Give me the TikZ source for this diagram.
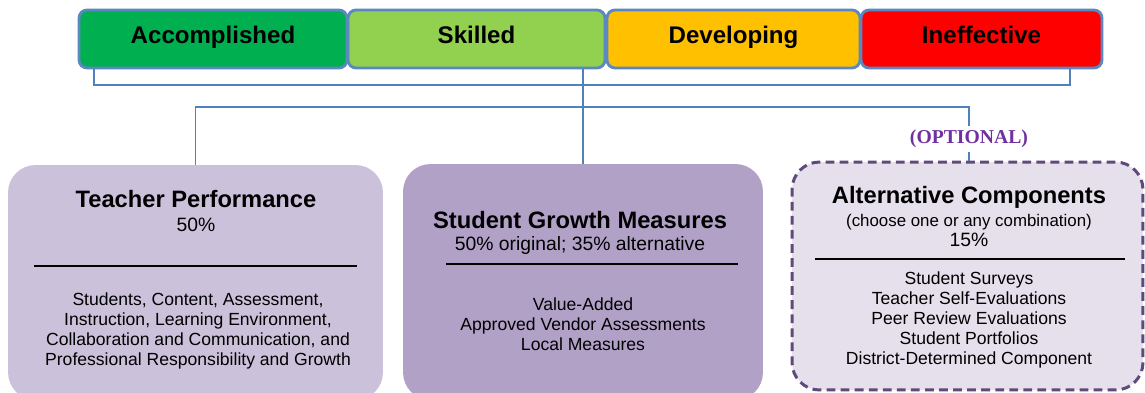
\documentclass[tikz,border=0pt]{standalone}
\usepackage{fontspec}
\setmainfont{Liberation Sans}
\newfontfamily\optfont{Liberation Serif}
\usepackage{tikz}

\definecolor{accgreen}{HTML}{00B050}
\definecolor{skillgreen}{HTML}{92D050}
\definecolor{devorange}{HTML}{FFC000}
\definecolor{ineffred}{HTML}{FF0000}
\definecolor{linkblue}{HTML}{4F81BD}
\definecolor{tierline}{HTML}{5B87C2}
\definecolor{teachfill}{HTML}{CCC1DA}
\definecolor{growthfill}{HTML}{B2A1C7}
\definecolor{altfill}{HTML}{E5E0EC}
\definecolor{altline}{HTML}{604A7B}
\definecolor{optpurple}{HTML}{7030A0}

\begin{document}
\begin{tikzpicture}[x=0.02cm, y=-0.02cm,
        tier/.style={draw=tierline, line width=1.6pt, rounded corners=0.16cm,
                     minimum height=1.16cm, inner sep=0pt,
                     text height=9.8pt, text depth=4.5pt,
                     font=\fontsize{13.7}{15}\selectfont\bfseries},
        link/.style={draw=linkblue, line width=1.1pt},
        part/.style={rounded corners=0.55cm, inner sep=0pt},
        heading/.style={font=\fontsize{13.5}{15}\selectfont\bfseries},
        share/.style={font=\fontsize{11}{13}\selectfont},
        items/.style={align=center, font=\fontsize{10}{11.4}\selectfont},
        rule/.style={line width=1.1pt}]
        \useasboundingbox (0,0) rectangle (1145,392);

        \node[tier, fill=accgreen, minimum width=5.36cm] (acc) at (213,39) {Accomplished};
        \node[tier, fill=skillgreen, minimum width=5.14cm] (skill) at (476.5,39) {Skilled};
        \node[tier, fill=devorange, minimum width=5.06cm] (dev) at (733.5,39) {Developing};
        \node[tier, fill=ineffred, minimum width=4.82cm] (ineff) at (981.5,39) {Ineffective};

        \node[part, fill=teachfill, minimum width=7.5cm, minimum height=4.7cm] (teach) at (195.5,282.5) {};
        \node[part, fill=growthfill, minimum width=7.2cm, minimum height=4.72cm] (growth) at (583,282) {};
        \node[part, fill=altfill, draw=altline, line width=1.7pt, dash pattern=on 5pt off 3pt,
              minimum width=7.02cm, minimum height=4.56cm] (alt) at (967.5,276) {};

        \node[text=optpurple, font=\optfont\fontsize{11.2}{13}\selectfont\bfseries, inner sep=2pt]
              (opt) at (969,139) {(OPTIONAL)};

        \coordinate (brL) at (94,85);
        \coordinate (brR) at (1070,85);
        \coordinate (hub) at (583,107);

        \draw[link] (acc.south -| brL) |- (brR) -- (ineff.south -| brR);
        \draw[link] (skill.south -| growth.north) -- (growth.north);
        \draw[link] (teach.north) |- (hub) -| (opt.north);
        \draw[link] (opt.south) -- (opt.south |- alt.north);

        \node[heading] (teachT) at (196,199) {Teacher Performance};
        \node[share] (teachP) at (196,225) {50\%};
        \draw[rule] (34,266) -- (357,266);
        \node[items] (teachL) at (198,331) {Students, Content, Assessment,\\
              Instruction, Learning Environment,\\
              Collaboration and Communication, and\\
              Professional Responsibility and Growth};

        \node[heading] (growthT) at (580,220) {Student Growth Measures};
        \node[share] (growthP) at (580,245) {50\% original; 35\% alternative};
        \draw[rule] (446,264) -- (738,264);
        \node[items] (growthL) at (583,324) {Value-Added\\
              Approved Vendor Assessments\\
              Local Measures};

        \node[heading] (altT) at (969,197) {Alternative Components};
        \node[font=\fontsize{9.6}{11}\selectfont] (altC) at (969,222) {(choose one or any combination)};
        \node[share] (altP) at (969,240) {15\%};
        \draw[rule] (815,259) -- (1125,259);
        \node[items] (altL) at (969,320) {Student Surveys\\
              Teacher Self-Evaluations\\
              Peer Review Evaluations\\
              Student Portfolios\\
              District-Determined Component};
      \end{tikzpicture}
\end{document}
